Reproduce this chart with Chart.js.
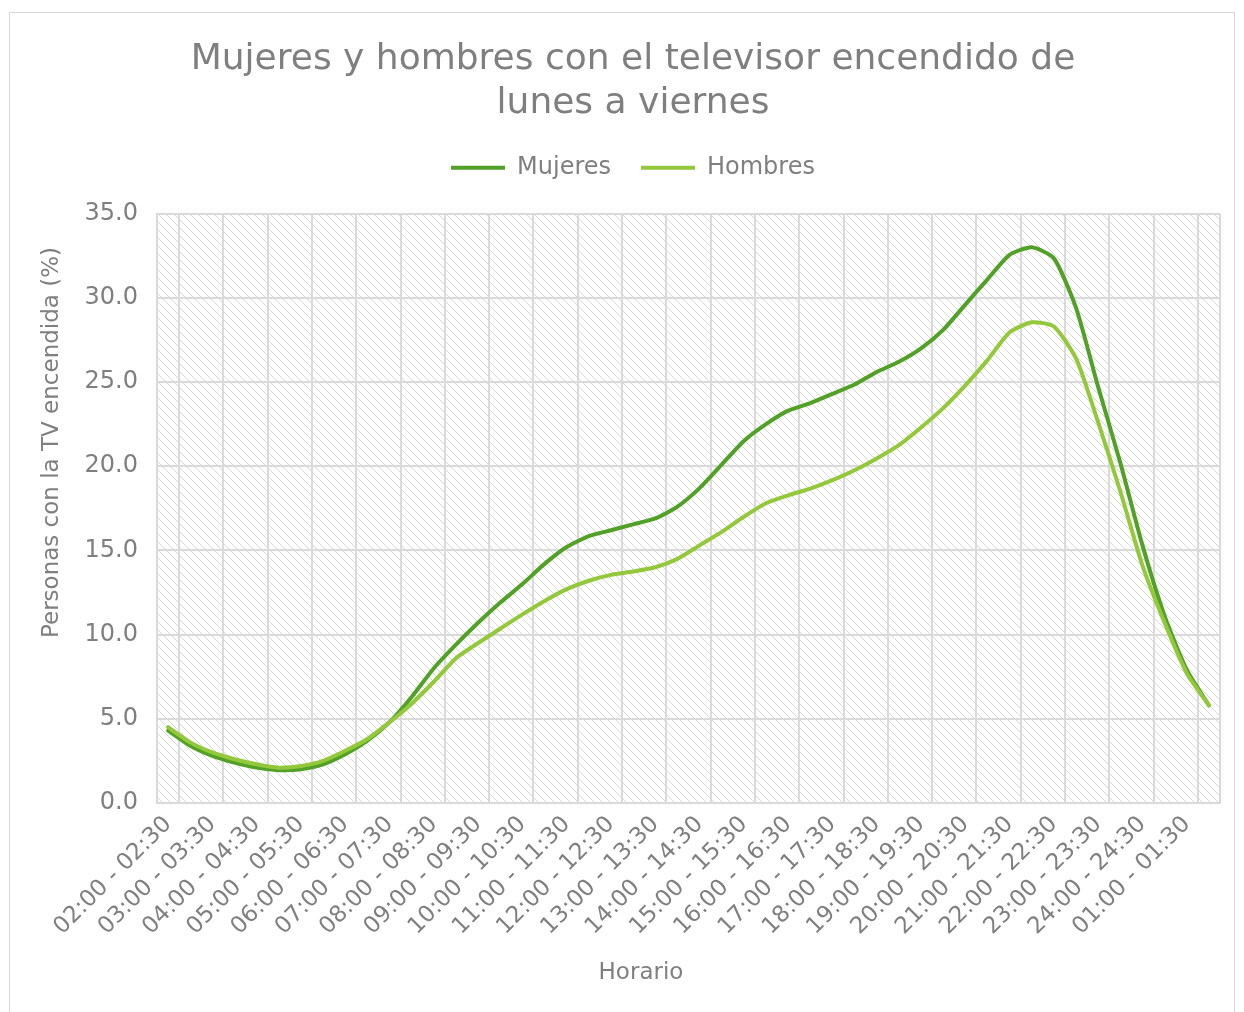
<!DOCTYPE html>
<html>
<head>
<meta charset="utf-8">
<script src="https://cdn.jsdelivr.net/npm/chart.js@4.4.1/dist/chart.umd.min.js"></script>
<style>
  html, body { margin: 0; padding: 0; background: #fff; }
  #wrap { position: relative; width: 1244px; height: 1012px; }
  #frame { position: absolute; left: 9px; top: 12px; width: 1224px; height: 1010px; border: 1px solid #d9d9d9; pointer-events: none; }
</style>
</head>
<body>
<div id="wrap">
  <canvas id="chart" width="1244" height="1012"></canvas>
  <div id="frame"></div>
</div>
<script>
// half-hour slots, Monday to Friday
const horario = [
  '02:00 - 02:30', '02:30 - 03:00', '03:00 - 03:30', '03:30 - 04:00',
  '04:00 - 04:30', '04:30 - 05:00', '05:00 - 05:30', '05:30 - 06:00',
  '06:00 - 06:30', '06:30 - 07:00', '07:00 - 07:30', '07:30 - 08:00',
  '08:00 - 08:30', '08:30 - 09:00', '09:00 - 09:30', '09:30 - 10:00',
  '10:00 - 10:30', '10:30 - 11:00', '11:00 - 11:30', '11:30 - 12:00',
  '12:00 - 12:30', '12:30 - 13:00', '13:00 - 13:30', '13:30 - 14:00',
  '14:00 - 14:30', '14:30 - 15:00', '15:00 - 15:30', '15:30 - 16:00',
  '16:00 - 16:30', '16:30 - 17:00', '17:00 - 17:30', '17:30 - 18:00',
  '18:00 - 18:30', '18:30 - 19:00', '19:00 - 19:30', '19:30 - 20:00',
  '20:00 - 20:30', '20:30 - 21:00', '21:00 - 21:30', '21:30 - 22:00',
  '22:00 - 22:30', '22:30 - 23:00', '23:00 - 23:30', '23:30 - 24:00',
  '24:00 - 24:30', '24:30 - 01:00', '01:00 - 01:30', '01:30 - 02:00'
];

// % of people with the TV on
const mujeres = [
  4.3, 3.4, 2.8, 2.4, 2.1, 1.95, 2.0, 2.3, 2.9, 3.7,
  4.8, 6.3, 8.0, 9.4, 10.7, 11.9, 13.0, 14.2, 15.2, 15.85,
  16.2, 16.55, 16.9, 17.6, 18.7, 20.1, 21.5, 22.5, 23.3, 23.75,
  24.3, 24.85, 25.6, 26.2, 27.0, 28.1, 29.6, 31.1, 32.55, 33.0,
  32.35, 29.4, 24.7, 20.2, 15.3, 11.1, 7.9, 5.8
];
const hombres = [
  4.5, 3.6, 3.0, 2.6, 2.3, 2.1, 2.2, 2.5, 3.1, 3.8,
  4.8, 5.9, 7.2, 8.6, 9.5, 10.35, 11.2, 12.0, 12.7, 13.2,
  13.55, 13.75, 14.0, 14.5, 15.3, 16.1, 17.0, 17.8, 18.27, 18.67,
  19.17, 19.76, 20.46, 21.25, 22.3, 23.45, 24.8, 26.3, 27.95, 28.55,
  28.3, 26.4, 22.6, 18.5, 14.1, 10.7, 7.7, 5.8
];

const yTicks = [0, 5, 10, 15, 20, 25, 30, 35];

const titulo = ['Mujeres y hombres con el televisor encendido de', 'lunes a viernes'];
// Excel placed the axis titles off-centre; padded with spaces to match
const tituloY = ' '.repeat(18) + 'Personas con la TV encendida (%)';
const tituloX = 'Horario' + ' '.repeat(13);

const textGrey = '#7f7f7f';
const gridGrey = '#dadada';

Chart.defaults.font.family = '"DejaVu Sans", sans-serif';
Chart.defaults.color = textGrey;

// Excel-like hatched fill behind the plot area
const hatchFill = {
  id: 'hatchFill',
  beforeDraw(chart) {
    const { ctx, chartArea: a } = chart;
    const tile = document.createElement('canvas');
    tile.width = 8;
    tile.height = 8;
    const t = tile.getContext('2d');
    t.fillStyle = '#ffffff';
    t.fillRect(0, 0, 8, 8);
    t.strokeStyle = '#d9d9d9';
    t.lineWidth = 1;
    t.beginPath();
    t.moveTo(-2, -2); t.lineTo(10, 10);
    t.moveTo(-2, 6); t.lineTo(2, 10);
    t.moveTo(6, -2); t.lineTo(10, 2);
    t.stroke();
    ctx.save();
    ctx.fillStyle = ctx.createPattern(tile, 'repeat');
    ctx.fillRect(a.left, a.top, a.right - a.left, a.bottom - a.top);
    ctx.restore();
  }
};

new Chart(document.getElementById('chart'), {
  type: 'line',
  data: {
    labels: horario,
    datasets: [
      {
        label: 'Mujeres',
        data: mujeres,
        borderColor: '#52a127',
        backgroundColor: '#52a127',
        borderWidth: 4,
        order: 1
      },
      {
        label: 'Hombres',
        data: hombres,
        borderColor: '#93c83a',
        backgroundColor: '#93c83a',
        borderWidth: 4,
        order: 0
      }
    ]
  },
  options: {
    responsive: false,
    animation: false,
    layout: { padding: { top: 0, left: 46, right: 24, bottom: 20 } },
    elements: {
      point: { radius: 0, hoverRadius: 0 },
      line: { tension: 0.2, borderCapStyle: 'round', borderJoinStyle: 'round' }
    },
    plugins: {
      title: {
        display: true,
        text: titulo,
        color: textGrey,
        font: { size: 36, weight: 'normal', lineHeight: 1.22 },
        padding: { top: 38, bottom: 0 }
      },
      // empty spacer between legend and plot
      subtitle: {
        display: true,
        text: '',
        weight: 500,
        padding: 0,
        font: { size: 20, lineHeight: 1.19 }
      },
      legend: {
        position: 'top',
        labels: {
          usePointStyle: true,
          pointStyle: 'line',
          pointStyleWidth: 54,
          padding: 30,
          color: textGrey,
          font: { size: 24 },
          sort: (a, b) => a.datasetIndex - b.datasetIndex
        }
      },
      tooltip: { enabled: false }
    },
    scales: {
      x: {
        offset: true,
        grid: {
          offset: true,
          drawTicks: false,
          lineWidth: 2,
          color: (c) => (c.type !== 'tick' || c.index % 2 === 1) ? gridGrey : 'rgba(0,0,0,0)'
        },
        border: { display: true, color: gridGrey, width: 2 },
        ticks: {
          autoSkip: false,
          minRotation: 45,
          maxRotation: 45,
          padding: 8,
          color: textGrey,
          font: { size: 23 },
          callback: (v, i) => (i % 2 === 0 ? horario[i] : '')
        },
        title: {
          display: true,
          text: tituloX,
          color: textGrey,
          font: { size: 23 },
          padding: { top: 0, bottom: 5 }
        },
        afterFit: (s) => { s.height = 189; }
      },
      y: {
        min: yTicks[0],
        max: yTicks[yTicks.length - 1],
        afterBuildTicks: (s) => { s.ticks = yTicks.map((v) => ({ value: v })); },
        grid: { drawTicks: false, lineWidth: 2, color: gridGrey },
        border: { display: true, color: gridGrey, width: 2 },
        ticks: {
          padding: 19,
          color: textGrey,
          font: { size: 24 },
          callback: (v) => Number(v).toFixed(1)
        },
        title: {
          display: true,
          text: tituloY,
          color: textGrey,
          font: { size: 23 },
          padding: { top: -8, bottom: 0 }
        },
        afterFit: (s) => { s.width = 111; }
      }
    }
  },
  plugins: [hatchFill]
});
</script>
</body>
</html>
